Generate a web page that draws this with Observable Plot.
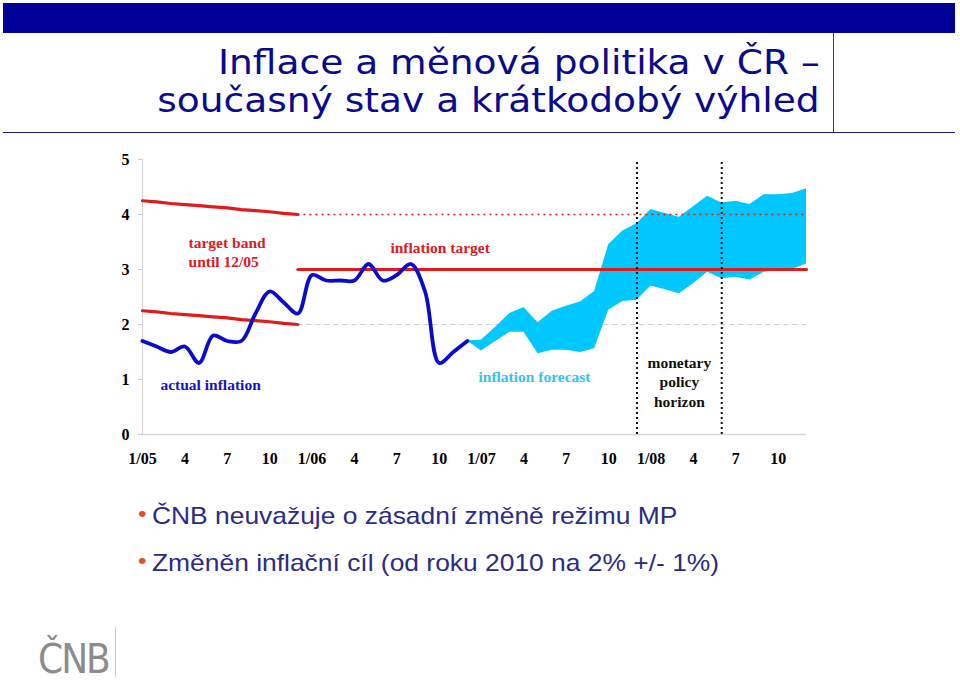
<!DOCTYPE html>
<html>
<head>
<meta charset="utf-8">
<script src="https://cdn.jsdelivr.net/npm/d3@7"></script>
<script src="https://cdn.jsdelivr.net/npm/@observablehq/plot@0.6"></script>
<style>
  html, body { margin: 0; padding: 0; background: #fff; }
  #page { position: relative; width: 960px; height: 681px; overflow: hidden; background: #fff; }
  .abs { position: absolute; }
  #title { right: 140px; top: 44px; text-align: right; font-family: "DejaVu Sans Condensed", "DejaVu Sans", sans-serif; font-size: 33px; line-height: 38px; color: #0a0a8c; white-space: nowrap; transform: scaleX(1.265); transform-origin: right top; }
  .bullet { left: 138px; font-family: "Liberation Sans", Arial, sans-serif; font-size: 24px; color: #2b2b85; white-space: nowrap; transform: scaleX(1.1); transform-origin: left top; }
  .bullet .dot { color: #e0502a; font-size: 22px; margin-right: 5px; position: relative; top: -3px; }
  #logo { left: 38px; top: 636px; font-family: "DejaVu Sans Condensed", "DejaVu Sans", sans-serif; font-size: 40px; color: #8c8c8c; letter-spacing: -2px; }
</style>
</head>
<body>
<div id="page">
  <div class="abs" style="left:3px;top:3px;width:952px;height:30px;background:#000099"></div>
  <div class="abs" style="left:833px;top:33px;width:1px;height:99px;background:#3a3a90"></div>
  <div class="abs" style="left:3px;top:132px;width:952px;height:1px;background:#1a1a80"></div>
  <div id="title" class="abs">Inflace a měnová politika v ČR –<br>současný stav a krátkodobý výhled</div>
  <div id="chart" class="abs" style="left:0;top:140px"></div>
  <div class="abs bullet" style="top:502px"><span class="dot">•</span>ČNB neuvažuje o zásadní změně režimu MP</div>
  <div class="abs bullet" style="top:549px"><span class="dot">•</span>Změněn inflační cíl (od roku 2010 na 2% +/- 1%)</div>
  <div id="logo" class="abs">ČNB</div>
  <div class="abs" style="left:115px;top:627px;width:1px;height:50px;background:#cfcfcf"></div>
</div>
<script>
// ---- data (month index 0 = 1/05 ... 47 = 12/08) ----
const xTickIdx = [0, 3, 6, 9, 12, 15, 18, 21, 24, 27, 30, 33, 36, 39, 42, 45];
const xTickLabels = ["1/05","4","7","10","1/06","4","7","10","1/07","4","7","10","1/08","4","7","10"];
const yTicks = [0, 1, 2, 3, 4, 5];

// actual CPI inflation, 1/05 .. 12/06
const actual = [1.7, 1.6, 1.5, 1.6, 1.3, 1.8, 1.7, 1.7, 2.2, 2.6, 2.4, 2.2,
                2.9, 2.8, 2.8, 2.8, 3.1, 2.8, 2.9, 3.1, 2.6, 1.3, 1.5, 1.7];

// forecast band, 12/06 .. 12/08 (month index 23 .. 47)
const forecastStart = 23;
const forecastLow  = [1.7, 1.52, 1.69, 1.86, 1.86, 1.47, 1.53, 1.53, 1.49, 1.56, 2.26, 2.42, 2.44,
                      2.7, 2.63, 2.56, 2.74, 2.95, 2.83, 2.86, 2.81, 2.95, 2.98, 3.0, 3.1];
const forecastHigh = [1.7, 1.72, 1.95, 2.2, 2.31, 2.03, 2.24, 2.33, 2.41, 2.6, 3.45, 3.7, 3.83,
                      4.09, 4.02, 3.95, 4.14, 4.33, 4.21, 4.24, 4.18, 4.36, 4.36, 4.38, 4.47];

// target band until 12/05 (month index 0 .. 11)
const bandHigh = [4.25, 4.23, 4.2, 4.18, 4.16, 4.14, 4.12, 4.09, 4.07, 4.05, 4.02, 4.0];
const bandLow  = [2.25, 2.23, 2.2, 2.18, 2.16, 2.14, 2.12, 2.09, 2.07, 2.05, 2.02, 2.0];

// inflation target from 1/06 (3 % +/- 1 pp), drawn from 12/05 to 12/08
const targetStart = 11, targetEnd = 47;
const targetMid = 3, targetUpper = 4, targetLower = 2;

// monetary policy horizon (12/07 .. 6/08)
const horizon = [35, 41];

// annotations
const annText  = ["target band\nuntil 12/05", "inflation target", "actual inflation", "inflation forecast", "monetary\npolicy\nhorizon"];
const annX     = [3.26, 17.55, 1.27, 23.78, 38.0];
const annY     = [3.33, 3.42, 0.93, 1.06, 0.97];
const annColor = ["#dd1a22", "#dd1a22", "#1515c8", "#33c4ea", "#111111"];
const annAnchor = ["start", "start", "start", "start", "middle"];

// ---- build tables ----
const actualData = actual.map((v, i) => ({i, v}));
const fcData = forecastLow.map((lo, k) => ({i: forecastStart + k, lo, hi: forecastHigh[k]}));
const bandData = bandHigh.map((hi, i) => ({i, hi, lo: bandLow[i]}));
const targetData = [{i: targetStart, v: targetMid}, {i: targetEnd, v: targetMid}];

const RED = "#e01b1b";
const font = {fontFamily: "Liberation Serif", fontWeight: "bold", fontSize: 16};

const annMarks = annText.map((t, k) => Plot.text([{t, x: annX[k], y: annY[k]}], {
  x: "x", y: "y", text: "t", fill: annColor[k], textAnchor: annAnchor[k],
  lineAnchor: "middle", lineHeight: 1.26, ...font, fontSize: 15.5
}));

const chart = Plot.plot({
  width: 960, height: 340,
  marginLeft: 142, marginRight: 154, marginTop: 19, marginBottom: 46,
  x: {domain: [0, 47], axis: null},
  y: {domain: [0, 5], axis: null},
  style: {background: "transparent", fontFamily: "Liberation Serif"},
  marks: [
    Plot.ruleY([targetLower], {x1: targetStart, x2: targetEnd, stroke: "#c9c9dc", strokeDasharray: "5,4", strokeWidth: 1.2}),
    Plot.areaY(fcData, {x: "i", y1: "lo", y2: "hi", fill: "#00c8ff"}),
    Plot.ruleY([0], {x1: 0, x2: 47, stroke: "#d6d6d6", strokeWidth: 1.5}),
    Plot.ruleX([0], {y1: 0, y2: 5, stroke: "#d6d6d6", strokeWidth: 1.2}),
    Plot.axisY({ticks: yTicks, tickFormat: d => String(d), tickSize: 4, tickPadding: 9, stroke: "#cccccc", fill: "#000", label: null, ...font}),
    Plot.axisX({ticks: xTickIdx, tickFormat: d => xTickLabels[xTickIdx.indexOf(d)], tickSize: 0, tickPadding: 18, fill: "#000", label: null, ...font}),
    Plot.line(bandData, {x: "i", y: "hi", stroke: RED, strokeWidth: 3.2}),
    Plot.line(bandData, {x: "i", y: "lo", stroke: RED, strokeWidth: 3.2}),
    Plot.ruleY([targetUpper], {x1: targetStart, x2: targetEnd, stroke: RED, strokeDasharray: "2,4", strokeWidth: 1.5}),
    Plot.line(targetData, {x: "i", y: "v", stroke: RED, strokeWidth: 3.2}),
    Plot.ruleX(horizon, {y1: 0, y2: 5, stroke: "#111", strokeDasharray: "2,3", strokeWidth: 2}),
    Plot.line(actualData, {x: "i", y: "v", curve: "catmull-rom", stroke: "#0a0acc", strokeWidth: 3.8, strokeLinejoin: "round", strokeLinecap: "round"}),
    ...annMarks
  ]
});
document.getElementById("chart").appendChild(chart);
</script>
</body>
</html>
